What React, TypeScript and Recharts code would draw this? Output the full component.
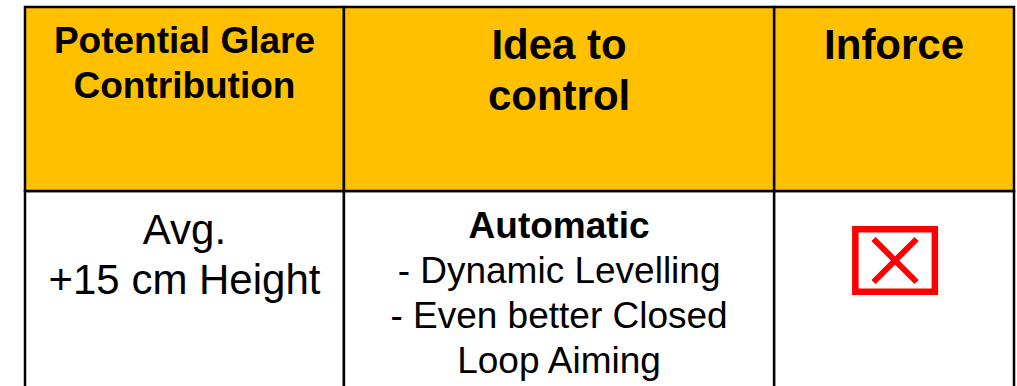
import { BarChart, Bar, XAxis, YAxis } from "recharts"

// table columns, as shares of the full table width
const columnKeys = ["glare", "idea", "inforce"]
const columnShares = [32.25, 43.5, 24.25]

// header texts (already wrapped as on the slide)
const headerLabels = [["Potential Glare", "Contribution"], ["Idea to", "control"], ["Inforce"]]

// body row
const glareValue = ["Avg.", "+15 cm Height"]
const ideaTitle = "Automatic"
const ideaPoints = ["- Dynamic Levelling", "- Even better Closed", "Loop Aiming"]
const inforced = false

const GOLD = "#FFC000"
const BORDER = "#000000"
const FONT = "'Liberation Sans', Arial, Helvetica, sans-serif"

function makeRow(name: string) {
  const row: Record<string, any> = { row: name }
  columnKeys.forEach((k, i) => (row[k] = columnShares[i]))
  return [row]
}

const headerData = makeRow("header")
const bodyData = makeRow("body")

// header text styles per column: font size, first baseline offset, line height
const headerStyle = [
  { size: 37, first: 46.3, lh: 45 },
  { size: 42, first: 52.3, lh: 50.7 },
  { size: 42, first: 52.3, lh: 50.7 },
]

function HeaderCell(props: any) {
  const { x, y, width, height, col } = props
  const st = headerStyle[col]
  const cx = x + width / 2
  return (
    <g>
      <rect x={x} y={y} width={width} height={height} fill={GOLD} stroke={BORDER} strokeWidth={2.5} />
      {headerLabels[col].map((t, i) => (
        <text
          key={t}
          x={cx}
          y={y + st.first + i * st.lh}
          textAnchor="middle"
          fontFamily={FONT}
          fontWeight={700}
          fontSize={st.size}
          fill="#000"
        >
          {t}
        </text>
      ))}
    </g>
  )
}

// red "not in force" box
function CrossBox({ cx, cy }: { cx: number; cy: number }) {
  const w = 79.5
  const h = 62.5
  const d = 21.5
  return (
    <g>
      <rect x={cx - w / 2} y={cy - h / 2} width={w} height={h} fill="none" stroke="#FF0000" strokeWidth={6.5} />
      <line x1={cx - d} y1={cy - d} x2={cx + d} y2={cy + d} stroke="#FF0000" strokeWidth={6} />
      <line x1={cx + d} y1={cy - d} x2={cx - d} y2={cy + d} stroke="#FF0000" strokeWidth={6} />
    </g>
  )
}

function BodyCell(props: any) {
  const { x, y, width, height, col } = props
  const cx = x + width / 2
  let content: any = null
  if (col === 0) {
    content = glareValue.map((t, i) => (
      <text key={t} x={cx} y={y + 52.7 + i * 50.6} textAnchor="middle" fontFamily={FONT} fontSize={42} fill="#000">
        {t}
      </text>
    ))
  } else if (col === 1) {
    content = (
      <g>
        <text x={cx} y={y + 46.7} textAnchor="middle" fontFamily={FONT} fontWeight={700} fontSize={37} fill="#000">
          {ideaTitle}
        </text>
        {ideaPoints.map((t, i) => (
          <text key={t} x={cx} y={y + 91.7 + i * 45} textAnchor="middle" fontFamily={FONT} fontSize={37} fill="#000">
            {t}
          </text>
        ))}
      </g>
    )
  } else {
    content = inforced ? null : <CrossBox cx={cx + 1} cy={y + 69.5} />
  }
  return (
    <g>
      <rect x={x} y={y} width={width} height={height} fill="#FFFFFF" stroke={BORDER} strokeWidth={2.5} />
      {content}
    </g>
  )
}

function TableRow({ data, top, height, bottom, Cell }: any) {
  return (
    <div style={{ position: "absolute", left: 0, top: 0 }}>
      <BarChart
        width={1017}
        height={height}
        data={data}
        layout="vertical"
        margin={{ top, right: 3, left: 25, bottom }}
        barCategoryGap={0}
      >
        <XAxis type="number" domain={[0, 100]} hide />
        <YAxis type="category" dataKey="row" hide />
        {columnKeys.map((k, i) => (
          <Bar
            key={k}
            dataKey={k}
            stackId="table"
            isAnimationActive={false}
            shape={(p: any) => <Cell {...p} col={i} />}
          />
        ))}
      </BarChart>
    </div>
  )
}

export default function App() {
  return (
    <div
      style={{
        position: "absolute",
        left: 0,
        top: 0,
        width: 1017,
        height: 386,
        overflow: "hidden",
        background: "#FFFFFF",
      }}
    >
      <TableRow data={bodyData} top={191} height={500} bottom={60} Cell={BodyCell} />
      <TableRow data={headerData} top={7} height={194} bottom={3} Cell={HeaderCell} />
    </div>
  )
}
